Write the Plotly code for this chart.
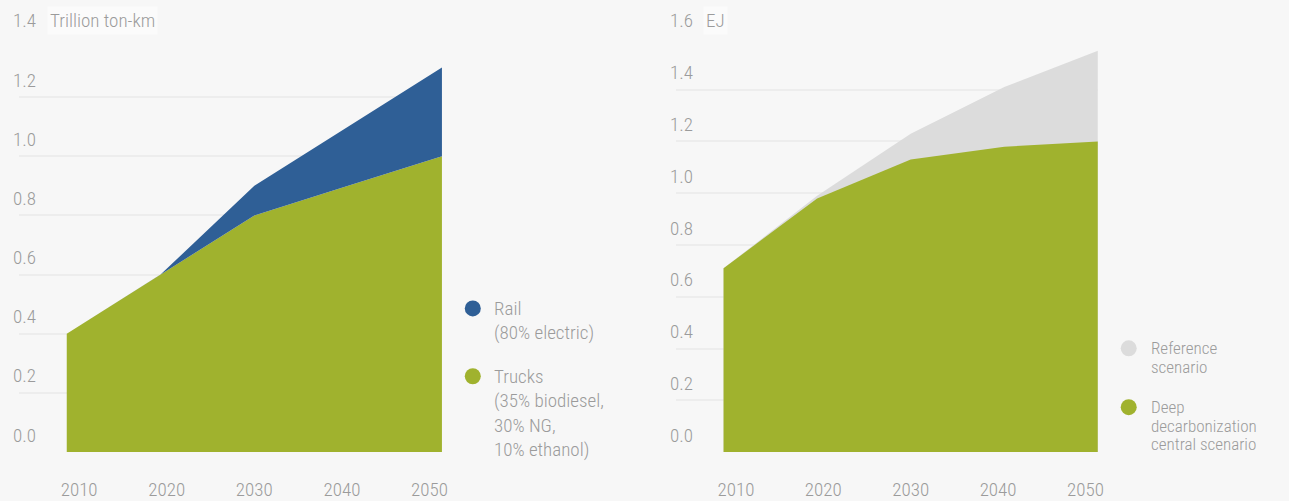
import plotly.graph_objects as go

# data
years = [2010, 2020, 2030, 2040, 2050]
trucks = [0.40, 0.60, 0.80, 0.90, 1.00]
rail = [0.00, 0.00, 0.10, 0.20, 0.30]
reference = [0.71, 0.99, 1.23, 1.41, 1.55]
deep = [0.71, 0.98, 1.13, 1.18, 1.20]

left_ticks = [0.0, 0.2, 0.4, 0.6, 0.8, 1.0, 1.2, 1.4]
right_ticks = [0.0, 0.2, 0.4, 0.6, 0.8, 1.0, 1.2, 1.4, 1.6]
year_labels = ["2010", "2020", "2030", "2040", "2050"]

left_unit = "Trillion ton-km"
right_unit = "EJ"

left_legend = [("Rail", ["Rail", "(80% electric)"]),
               ("Trucks", ["Trucks", "(35% biodiesel,", "30% NG,", "10% ethanol)"])]
right_legend = [("Reference", ["Reference", "scenario"]),
                ("Deep", ["Deep", "decarbonization", "central scenario"])]

BLUE = "#2f5f96"
GREEN = "#a0b22e"
GREY = "#dcdcdc"
BG = "#f7f7f7"
TXT = "#9b9b9b"
FONT = "Roboto Condensed, Roboto, sans-serif"

W, H = 1289, 501

fig = go.Figure()

# left chart: stacked freight
fig.add_trace(go.Scatter(x=years, y=trucks, stackgroup="freight", mode="lines",
                         line=dict(width=0), fillcolor=GREEN, name="Trucks",
                         xaxis="x", yaxis="y", hoverinfo="skip"))
fig.add_trace(go.Scatter(x=years, y=rail, stackgroup="freight", mode="lines",
                         line=dict(width=0), fillcolor=BLUE, name="Rail",
                         xaxis="x", yaxis="y", hoverinfo="skip"))

# right chart: overlapping scenarios
fig.add_trace(go.Scatter(x=years, y=reference, fill="tozeroy", mode="lines",
                         line=dict(width=0), fillcolor=GREY, name="Reference",
                         xaxis="x2", yaxis="y2", hoverinfo="skip"))
fig.add_trace(go.Scatter(x=years, y=deep, fill="tozeroy", mode="lines",
                         line=dict(width=0), fillcolor=GREEN, name="Deep",
                         xaxis="x2", yaxis="y2", hoverinfo="skip"))

# year labels sit a bit closer together than the data points
tickpos = [2030 + (y - 2030) * 0.934 for y in years]

# keep the year labels inside the 501px page, otherwise the page grows
xcommon = dict(range=[2004.9, 2050], showgrid=False, zeroline=False, showline=False,
               tickvals=tickpos, ticktext=year_labels, ticks="",
               ticklabelstandoff=24,
               tickfont=dict(family=FONT, size=19, color=TXT, weight=300),
               fixedrange=True)
ycommon = dict(showgrid=True, gridcolor="#ededed", gridwidth=2, zeroline=False,
               showline=False, showticklabels=False, dtick=0.2, tick0=0, fixedrange=True)

fig.update_layout(
    width=W, height=H,
    margin=dict(l=0, r=0, t=0, b=0),
    paper_bgcolor=BG, plot_bgcolor=BG,
    showlegend=False,
    xaxis=dict(domain=[19 / W, 444 / W], anchor="y", **xcommon),
    yaxis=dict(domain=[48 / H, 463 / H], range=[0, 1.4], anchor="x", **ycommon),
    xaxis2=dict(domain=[679 / W, 1103 / W], anchor="y2", **xcommon),
    yaxis2=dict(domain=[48 / H, 463 / H], range=[0, 1.6], anchor="x2", **ycommon),
)

annotations = []
for xref, yref, ticks in [("x domain", "y", left_ticks), ("x2 domain", "y2", right_ticks)]:
    for t in ticks:
        annotations.append(dict(xref=xref, yref=yref, x=0, y=t, xshift=-8, yshift=17,
                                xanchor="left", yanchor="middle", showarrow=False,
                                text=f"{t:.1f}",
                                font=dict(family=FONT, size=19, color=TXT, weight=300)))

# unit labels beside the top tick
annotations.append(dict(xref="paper", yref="paper", x=47 / W, y=1 - 21 / H,
                        xanchor="left", yanchor="middle", showarrow=False,
                        text=left_unit, bgcolor="#fbfbfb", borderpad=2,
                        font=dict(family=FONT, size=19, color=TXT, weight=300)))
annotations.append(dict(xref="paper", yref="paper", x=706 / W, y=1 - 21 / H,
                        xanchor="left", yanchor="middle", showarrow=False,
                        text=right_unit, bgcolor="#fbfbfb", borderpad=2,
                        font=dict(family=FONT, size=19, color=TXT, weight=300)))

shapes = []


def add_legend(entries, colors, cx, tx, starts, step, size):
    for (name, lines), col, y0 in zip(entries, colors, starts):
        shapes.append(dict(type="circle", xref="paper", yref="paper",
                           xsizemode="pixel", ysizemode="pixel",
                           xanchor=cx / W, yanchor=1 - y0 / H,
                           x0=-8, x1=8, y0=-8, y1=8,
                           fillcolor=col, line=dict(width=0)))
        for i, line in enumerate(lines):
            annotations.append(dict(xref="paper", yref="paper", x=tx / W,
                                    y=1 - (y0 + i * step) / H,
                                    xanchor="left", yanchor="middle", showarrow=False,
                                    text=line,
                                    font=dict(family=FONT, size=size, color=TXT, weight=300)))


add_legend(left_legend, [BLUE, GREEN], 475, 494, [309, 377], 24.5, 19)
add_legend(right_legend, [GREY, GREEN], 1134, 1154, [349, 408], 18.5, 17)

fig.update_layout(annotations=annotations, shapes=shapes)

# drop the default page margin and any extra height so the chart fills the window
page_fix = (
    "document.body.style.margin='0';"
    "document.body.style.overflow='hidden';"
    "document.documentElement.style.overflow='hidden';"
    "var d=document.getElementById('{plot_id}');"
    "d.style.height='501px';d.style.overflow='hidden';"
    "d.parentElement.style.height='501px';d.parentElement.style.overflow='hidden';"
)
fig.write_html("out.html", config={"displayModeBar": False}, post_script=page_fix)
